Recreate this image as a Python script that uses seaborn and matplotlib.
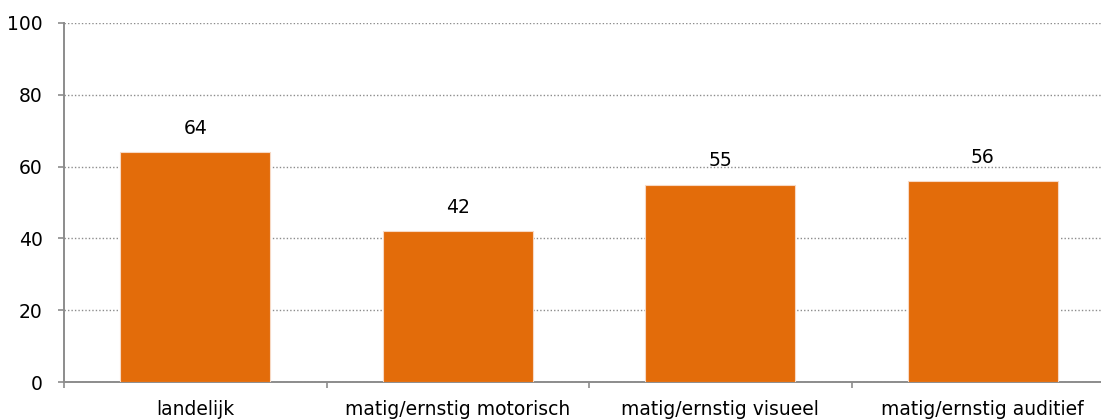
import matplotlib
matplotlib.use("Agg")
import matplotlib.pyplot as plt
import seaborn as sns
import pandas as pd
from matplotlib.ticker import FixedLocator

categories = ['landelijk', 'matig/ernstig motorisch', 'matig/ernstig visueel', 'matig/ernstig auditief']
values = [64, 42, 55, 56]
yticks = [0, 20, 40, 60, 80, 100]

df = pd.DataFrame({'categorie': categories, 'waarde': values})

sns.set_theme(style="white")
plt.rcParams['font.family'] = ['DejaVu Sans']

fig = plt.figure(figsize=(11.01, 4.2), dpi=100)
# de rechterkant van de grafiek valt net buiten het beeld
ax = fig.add_axes([64 / 1101, 38 / 420, 1050 / 1101, 359 / 420])

sns.barplot(data=df, x='categorie', y='waarde', color='#E36C0A', saturation=1,
            width=0.57, edgecolor='#F7D9C4', linewidth=0.8, ax=ax, zorder=3)

ax.set_xlim(-0.5, len(categories) - 0.5)
ax.set_ylim(0, 100)
ax.set_yticks(yticks)
ax.yaxis.grid(True, linestyle=(0, (1, 1.5)), color='#8C8C8C', linewidth=1, zorder=0)
ax.set_xlabel('')
ax.set_ylabel('')

# waardelabels boven de staven
for i, v in enumerate(values):
    ax.text(i, v + 6.6, str(v), ha='center', va='center', fontsize=13.5, color='black', zorder=4)

for side in ['top', 'right']:
    ax.spines[side].set_visible(False)
for side in ['left', 'bottom']:
    ax.spines[side].set_color('#8C8C8C')
    ax.spines[side].set_linewidth(1.4)

ax.tick_params(axis='y', which='major', length=4.5, width=1.2, color='#8C8C8C',
               left=True, labelsize=13.5, labelcolor='black', pad=11)
ax.tick_params(axis='x', which='major', length=0, labelsize=13.5, labelcolor='black', pad=13)
ax.xaxis.set_minor_locator(FixedLocator([i - 0.5 for i in range(len(categories) + 1)]))
ax.tick_params(axis='x', which='minor', length=4.5, width=1.2, color='#8C8C8C', bottom=True)

fig.savefig('out.png', dpi=100)
